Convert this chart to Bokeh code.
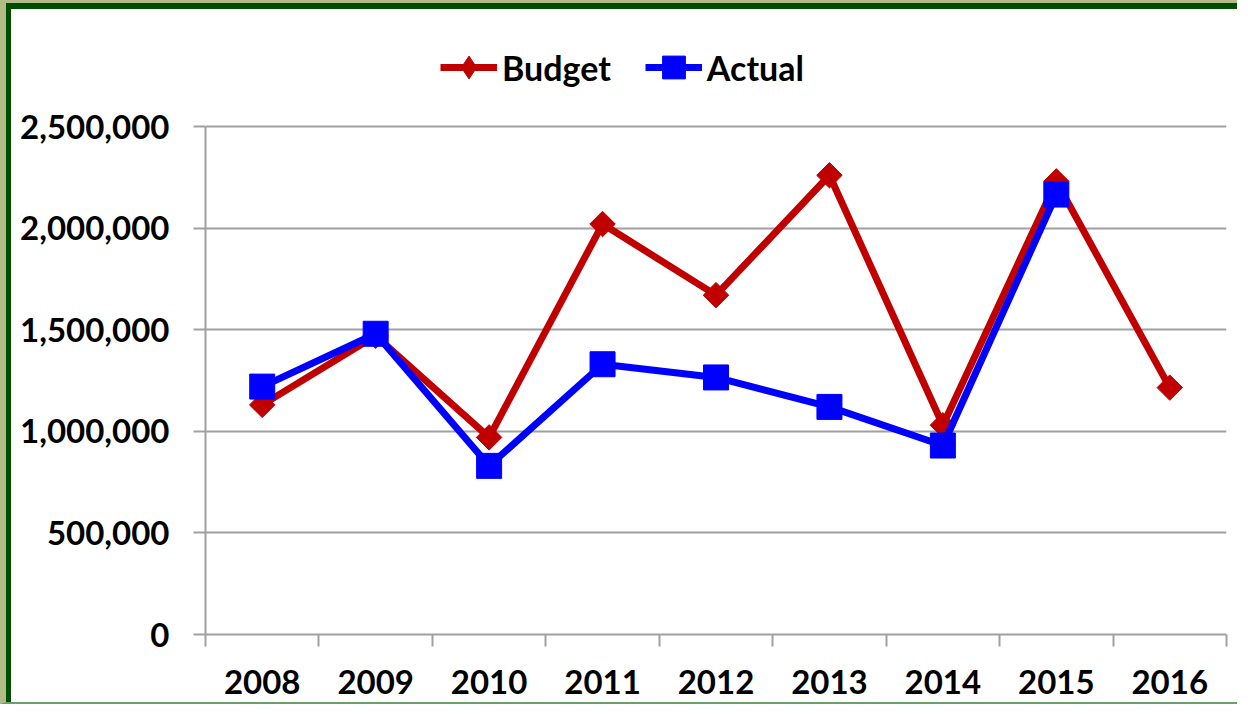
from bokeh.plotting import figure
from bokeh.models import (Range1d, FixedTicker, NumeralTickFormatter, Legend, LegendItem)
from bokeh.embed import file_html
from bokeh.resources import INLINE
import math

years = [2008, 2009, 2010, 2011, 2012, 2013, 2014, 2015, 2016]
budget = [1130000, 1470000, 970000, 2020000, 1670000, 2260000, 1030000, 2230000, 1215000]
actual_years = [2008, 2009, 2010, 2011, 2012, 2013, 2014, 2015]
actual = [1220000, 1480000, 830000, 1330000, 1265000, 1120000, 930000, 2165000]
y_ticks = [0, 500000, 1000000, 1500000, 2000000, 2500000]

FONT = "Lato"
GRID = "#a0a0a0"

# layout (canvas px)
W, H = 1237, 704
FRAME_TOP = 20          # frame extends above the plot area to hold the legend
AXIS_TOP = 117          # where 2,500,000 sits
FRAME_BOTTOM = 625
frame_h = FRAME_BOTTOM - FRAME_TOP
y_max = y_ticks[-1] * frame_h / (FRAME_BOTTOM - AXIS_TOP)

p = figure(width=W, height=H, output_backend="svg", toolbar_location=None,
           x_range=Range1d(years[0] - 0.5, years[-1] + 0.5),
           y_range=Range1d(0, y_max),
           min_border_left=194, min_border_right=22,
           min_border_top=FRAME_TOP, min_border_bottom=H - FRAME_BOTTOM)
p.styles = {
    "border-left": "6px solid #b3bc86",
    "border-top": "3px solid #b3bc86",
    "border-bottom": "2px solid #6aa06a",
    "padding-left": "5px",
    "padding-top": "6px",
    "background-color": "white",
    "box-shadow": "inset 5px 6px 0 0 #004d00",
}
p.outline_line_color = None
p.background_fill_color = "white"
p.border_fill_color = "white"

# axes
xa = p.xaxis[0]
xa.ticker = FixedTicker(ticks=years, minor_ticks=[y - 0.5 for y in years] + [years[-1] + 0.5])
xa.major_tick_line_color = None
xa.minor_tick_line_color = GRID
xa.minor_tick_line_width = 2
xa.minor_tick_out = 12
xa.minor_tick_in = 0
xa.axis_line_color = GRID
xa.axis_line_width = 2
xa.major_label_overrides = {y: str(y) for y in years}
xa.major_label_text_font = FONT
xa.major_label_text_font_style = "bold"
xa.major_label_text_font_size = "33px"
xa.major_label_text_color = "black"
xa.major_label_standoff = 23

ya = p.yaxis[0]
ya.ticker = FixedTicker(ticks=y_ticks, minor_ticks=[])
ya.bounds = (y_ticks[0], y_ticks[-1])
ya.formatter = NumeralTickFormatter(format="0,0")
ya.major_tick_line_color = GRID
ya.major_tick_line_width = 2
ya.major_tick_out = 12
ya.major_tick_in = 0
ya.axis_line_color = GRID
ya.axis_line_width = 2
ya.major_label_text_font = FONT
ya.major_label_text_font_style = "bold"
ya.major_label_text_font_size = "33px"
ya.major_label_text_color = "black"
ya.major_label_standoff = 24

p.xgrid.visible = False
p.ygrid.ticker = FixedTicker(ticks=y_ticks)
p.ygrid.grid_line_color = GRID
p.ygrid.grid_line_width = 2

RED = "#c00000"
BLUE = "#0000ff"

bl = p.line(years, budget, line_color=RED, line_width=7)
# tiny diamonds hidden under the markers; used only so the legend shows a diamond
bleg = p.scatter(years, budget, marker="diamond", size=1, fill_color=RED, line_color=RED)
bm = p.scatter(years, budget, marker="square", angle=math.pi / 4, size=18,
               fill_color=RED, line_color=RED)
al = p.line(actual_years, actual, line_color=BLUE, line_width=7)
am = p.scatter(actual_years, actual, marker="square", size=25,
               fill_color=BLUE, line_color=BLUE)

legend = Legend(items=[LegendItem(label="Budget", renderers=[bl, bleg]),
                       LegendItem(label="Actual", renderers=[al, am])],
                orientation="horizontal", location=(235, 538),
                glyph_width=57, glyph_height=58, label_standoff=5, spacing=34,
                padding=0, margin=0, border_line_color=None, background_fill_alpha=0,
                label_text_font=FONT, label_text_font_style="bold",
                label_text_font_size="34px", label_text_color="black")
p.add_layout(legend, "center")

open("out.html", "w").write(file_html(p, INLINE))
